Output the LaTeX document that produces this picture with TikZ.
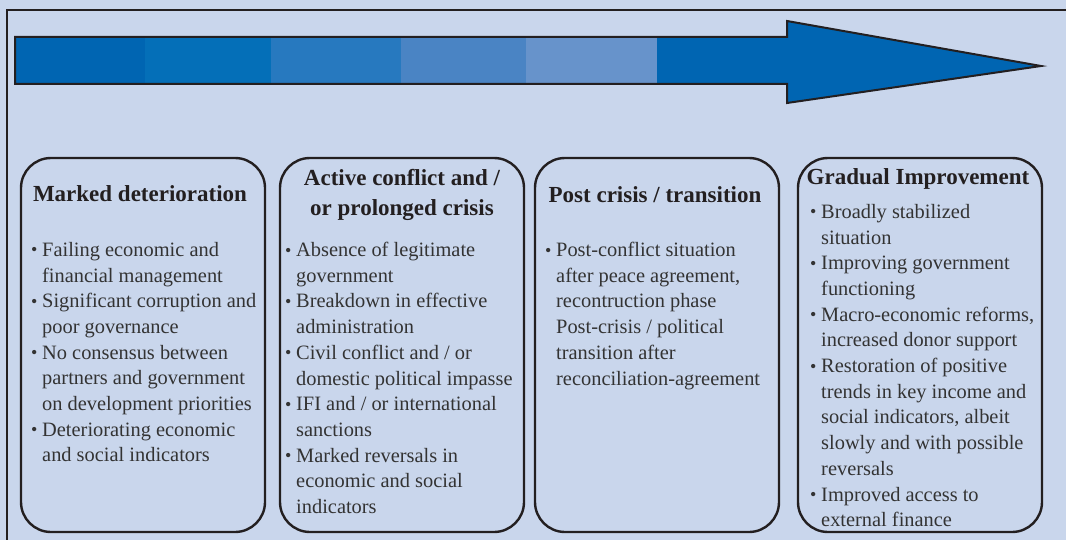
\documentclass[tikz,border=0pt]{standalone}
\usepackage{fontspec}
\setmainfont{Liberation Serif}
\definecolor{bg}{HTML}{C9D6EC}
\definecolor{segA}{HTML}{0065B2}
\definecolor{segB}{HTML}{046FB8}
\definecolor{segC}{HTML}{2779BF}
\definecolor{segD}{HTML}{4A84C4}
\definecolor{segE}{HTML}{6793CB}
\definecolor{ink}{HTML}{231F20}
\definecolor{bodyink}{HTML}{333333}
\newcommand{\bl}{\makebox[11pt][l]{\raisebox{0.5pt}{\fontsize{18}{18}\selectfont\textbullet}}}
\newcommand{\ct}{\hspace*{11pt}}
\tikzset{
  card/.style={draw=ink, line width=2.4pt, rounded corners=30pt, minimum width=244pt, minimum height=374pt, inner sep=0pt},
  ttl/.style={font=\fontsize{23}{30}\selectfont\bfseries, text=ink, align=center, inner sep=0pt},
  body/.style={font=\fontsize{20.4}{25.7}\selectfont, text=bodyink, align=left, inner sep=0pt, anchor=north west}
}
\begin{document}
\begin{tikzpicture}[x=1pt,y=-1pt]
\useasboundingbox (0,0) rectangle (1066,540);
\fill[bg] (0,0) rectangle (1066,540);
\draw[ink, line width=1.5pt] (7,540) -- (7,10) -- (1066,10);
% arrow
\fill[segA] (15,37) rectangle (145,84);
\fill[segB] (145,37) rectangle (271,84);
\fill[segC] (271,37) rectangle (401,84);
\fill[segD] (401,37) rectangle (526,84);
\fill[segE] (526,37) rectangle (657,84);
\fill[segA] (657,37) -- (787,37) -- (787,21) -- (1041,66) -- (787,103) -- (787,84) -- (657,84) -- cycle;
\draw[ink, line width=2pt, line join=miter] (15,37) -- (787,37) -- (787,21) -- (1041,66) -- (787,103) -- (787,84) -- (15,84) -- cycle;
% cards
\node[card] (box1) at (143,345) {};
\node[card] (box2) at (402,345) {};
\node[card] (box3) at (657,345) {};
\node[card] (box4) at (920,345) {};
% titles
\node[ttl] (t1) at (140,194) {Marked deterioration};
\node[ttl] (t2) at (402,195) {Active conflict and /\\or prolonged crisis};
\node[ttl] (t3) at (655,195) {Post crisis / transition};
\node[ttl] (t4) at (918,179) {Gradual Improvement};
% bodies
\node[body] (b1) at (31,242) {\bl Failing economic and\\ \ct financial management\\ \bl Significant corruption and\\ \ct poor governance\\ \bl No consensus between\\ \ct partners and government\\ \ct on development priorities\\ \bl Deteriorating economic\\ \ct and social indicators};
\node[body] (b2) at (285,242) {\bl Absence of legitimate\\ \ct government\\ \bl Breakdown in effective\\ \ct administration\\ \bl Civil conflict and / or\\ \ct domestic political impasse\\ \bl IFI and / or international\\ \ct sanctions\\ \bl Marked reversals in\\ \ct economic and social\\ \ct indicators};
\node[body] (b3) at (545,242) {\bl Post-conflict situation\\ \ct after peace agreement,\\ \ct recontruction phase\\ \ct Post-crisis / political\\ \ct transition after\\ \ct reconciliation-agreement};
\node[body] (b4) at (810,204) {\bl Broadly stabilized\\ \ct situation\\ \bl Improving government\\ \ct functioning\\ \bl Macro-economic reforms,\\ \ct increased donor support\\ \bl Restoration of positive\\ \ct trends in key income and\\ \ct social indicators, albeit\\ \ct slowly and with possible\\ \ct reversals\\ \bl Improved access to\\ \ct external finance};
\end{tikzpicture}
\end{document}
